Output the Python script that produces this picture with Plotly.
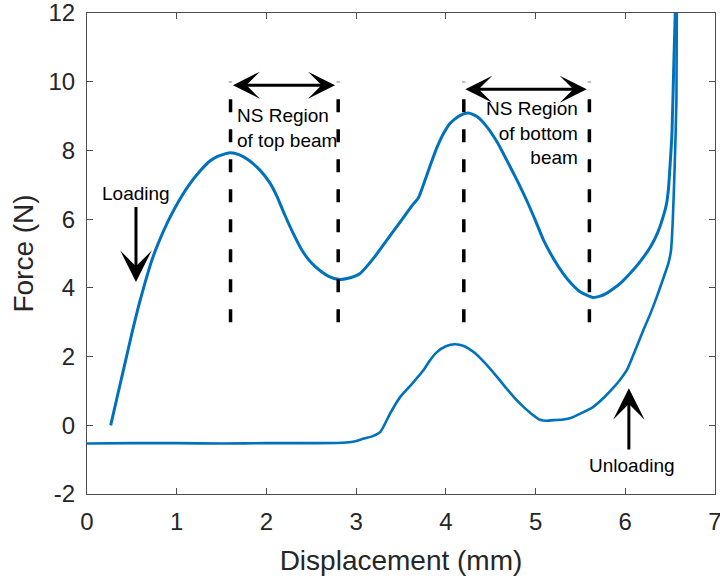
import plotly.graph_objects as go

# Loading branch (displacement mm, force N)
load_x = [0.264, 0.33, 0.405, 0.46, 0.516, 0.58, 0.647, 0.72, 0.795, 0.9, 1.0, 1.13, 1.26, 1.36, 1.45,
          1.594, 1.7, 1.8, 1.93, 2.04, 2.12, 2.2, 2.3, 2.4, 2.5, 2.6, 2.7, 2.8, 2.9, 3.04, 3.2, 3.34,
          3.5, 3.64, 3.69, 3.75, 3.82, 3.9, 3.98, 4.05, 4.16, 4.25, 4.35, 4.46, 4.57, 4.68, 4.79, 4.9, 5.0,
          5.09, 5.2, 5.31, 5.4, 5.5, 5.64, 5.72, 5.79, 5.87, 5.96, 6.05, 6.17, 6.28, 6.36, 6.42, 6.46,
          6.48, 6.5, 6.52, 6.54, 6.56]
load_y = [0.0, 0.75, 1.6, 2.22, 2.85, 3.52, 4.15, 4.78, 5.3, 5.92, 6.42, 6.97, 7.4, 7.67, 7.82,
          7.93, 7.87, 7.72, 7.42, 7.05, 6.65, 6.15, 5.58, 5.08, 4.73, 4.5, 4.33, 4.25, 4.27, 4.41, 4.88, 5.38,
          5.95, 6.45, 6.6, 7.0, 7.52, 8.08, 8.52, 8.8, 9.02, 9.09, 8.98, 8.68, 8.25, 7.71, 7.15, 6.55, 5.95,
          5.38, 4.85, 4.41, 4.12, 3.88, 3.72, 3.76, 3.84, 3.98, 4.17, 4.41, 4.78, 5.19, 5.6, 6.05, 6.45,
          6.85, 7.6, 8.49, 10.43, 12.3]

# Unloading branch
unload_x = [6.575, 6.57, 6.55, 6.53, 6.51, 6.48, 6.42, 6.35, 6.28, 6.20, 6.11, 6.02, 5.94, 5.87, 5.76,
            5.64, 5.5, 5.4, 5.31, 5.2, 5.12, 5.05, 4.97, 4.88, 4.79, 4.68, 4.57, 4.44, 4.31, 4.2, 4.10,
            4.0, 3.9, 3.82, 3.75, 3.62, 3.49, 3.38, 3.27, 3.17, 3.08, 2.98, 2.85, 2.5, 2.0, 1.5, 1.0,
            0.5, 0.0]
unload_y = [12.3, 9.46, 7.5, 6.0, 5.1, 4.71, 4.25, 3.73, 3.25, 2.76, 2.18, 1.62, 1.32, 1.1, 0.8,
            0.53, 0.34, 0.22, 0.17, 0.15, 0.13, 0.16, 0.3, 0.5, 0.73, 1.06, 1.41, 1.8, 2.13, 2.31, 2.36,
            2.3, 2.13, 1.88, 1.6, 1.2, 0.82, 0.35, -0.19, -0.33, -0.39, -0.47, -0.51, -0.52, -0.52, -0.53,
            -0.52, -0.52, -0.53]

# NS region boundaries
ns_top = [1.6, 2.8]
ns_bottom = [4.2, 5.6]
dash_y = [3, 10]

x_ticks = [0, 1, 2, 3, 4, 5, 6, 7]
x_tick_labels = ["0", "1", "2", "3", "4", "5", "6", "7"]
y_ticks = [-2, 0, 2, 4, 6, 8, 10, 12]
y_tick_labels = ["-2", "0", "2", "4", "6", "8", "10", "12"]

blue = "#0072BD"
fig = go.Figure()
fig.add_trace(go.Scatter(x=load_x, y=load_y, mode="lines",
                         line=dict(color=blue, width=3, shape="spline", smoothing=0.6)))
fig.add_trace(go.Scatter(x=unload_x, y=unload_y, mode="lines",
                         line=dict(color=blue, width=2.6, shape="spline", smoothing=0.6)))
for xv in ns_top + ns_bottom:
    fig.add_trace(go.Scatter(x=[xv, xv], y=dash_y, mode="lines",
                             line=dict(color="black", width=3.5, dash="13px,17px")))

font_ann = dict(family="Arial, Liberation Sans", size=19, color="black")
anns = []
# Loading arrow
anns.append(dict(x=0.546, y=4.17, ax=0.546, ay=6.4, xref="x", yref="y", axref="x", ayref="y",
                 showarrow=True, arrowhead=3, arrowsize=1.75, arrowwidth=3, arrowcolor="black",
                 standoff=0, text=""))
anns.append(dict(x=0.55, y=6.74, xref="x", yref="y", text="Loading", showarrow=False, font=font_ann))
# Unloading arrow
anns.append(dict(x=6.04, y=1.08, ax=6.04, ay=-0.75, xref="x", yref="y", axref="x", ayref="y",
                 showarrow=True, arrowhead=3, arrowsize=1.75, arrowwidth=3, arrowcolor="black",
                 standoff=0, text=""))
anns.append(dict(x=6.07, y=-1.16, xref="x", yref="y", text="Unloading", showarrow=False, font=font_ann))
# Horizontal double arrows
for (x0, x1, yv) in [(1.61, 2.765, 9.9), (4.20, 5.57, 9.78)]:
    anns.append(dict(x=x1, y=yv, ax=x0, ay=yv, xref="x", yref="y", axref="x", ayref="y",
                     showarrow=True, arrowhead=3, startarrowhead=3, arrowside="end+start",
                     arrowsize=1.5, startarrowsize=1.5, arrowwidth=3, arrowcolor="black",
                     standoff=0, startstandoff=0, text=""))
anns.append(dict(x=1.65, y=8.655, xref="x", yref="y", text="NS Region<br>of top beam",
                 showarrow=False, xanchor="left", align="left", font=font_ann))
anns.append(dict(x=5.495, y=8.52, xref="x", yref="y", text="NS Region<br>of bottom<br>beam",
                 showarrow=False, xanchor="right", align="right", font=font_ann))

axis_common = dict(showline=True, linecolor="#4d4d4d", linewidth=1, mirror="ticks",
                   ticks="inside", ticklen=6, tickcolor="#4d4d4d", showgrid=False, zeroline=False,
                   automargin=False, ticklabeloverflow="allow",
                   tickfont=dict(family="Arial, Liberation Sans", size=24, color="#262626"))

fig.update_layout(
    width=720, height=581,
    margin=dict(l=87, r=5, t=13, b=87),
    plot_bgcolor="white", paper_bgcolor="white",
    showlegend=False,
    annotations=anns,
    xaxis=dict(range=[0, 7], tickvals=x_ticks, ticktext=x_tick_labels, ticklabelstandoff=6,
               title=dict(text="Displacement (mm)", standoff=16,
                          font=dict(family="Arial, Liberation Sans", size=28, color="#262626")),
               **axis_common),
    yaxis=dict(range=[-2, 12], tickvals=y_ticks, ticktext=y_tick_labels, ticklabelstandoff=6,
               title=dict(text="Force (N)", standoff=6,
                          font=dict(family="Arial, Liberation Sans", size=28, color="#262626")),
               **axis_common),
)

fig.write_html("out.html")
